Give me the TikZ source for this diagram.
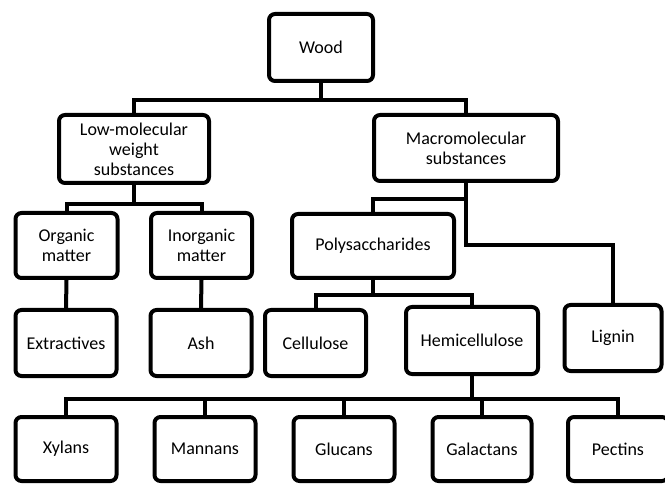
\documentclass[tikz,border=0pt]{standalone}
\usepackage{fontspec}
\setmainfont{Carlito}
\begin{document}
\begin{tikzpicture}[x=1pt,y=-1pt,
  box/.style={draw=black, line width=4pt, rounded corners=6pt, fill=white,
    inner sep=0pt, align=center, font=\fontsize{18}{20}\selectfont},
  conn/.style={draw=black, line width=4pt}]
\useasboundingbox (0,0) rectangle (665,484);
\clip (0,0) rectangle (665,484);
% nodes
\node[box, minimum width=104pt, minimum height=67pt] (wood) at (321,47.5) {Wood};
\node[box, minimum width=150pt, minimum height=68pt] (lowmol) at (134,149) {Low-molecular\\weight\\substances};
\node[box, minimum width=184pt, minimum height=66pt] (macro) at (466,148) {Macromolecular\\substances};
\node[box, minimum width=102pt, minimum height=65pt] (organic) at (66.5,245.5) {Organic\\matter};
\node[box, minimum width=101pt, minimum height=65pt] (inorganic) at (201.5,245.5) {Inorganic\\matter};
\node[box, minimum width=162pt, minimum height=64pt] (poly) at (373,246) {Polysaccharides};
\node[box, minimum width=101pt, minimum height=66pt] (extr) at (66,343) {Extractives};
\node[box, minimum width=101pt, minimum height=66pt] (ash) at (201,343) {Ash};
\node[box, minimum width=101pt, minimum height=66pt] (cell) at (315.5,343) {Cellulose};
\node[box, minimum width=132pt, minimum height=67pt] (hemi) at (472,340.5) {Hemicellulose};
\node[box, minimum width=97pt, minimum height=66pt] (lignin) at (613,338) {Lignin};
\node[box, minimum width=101pt, minimum height=64pt] (xyl) at (66,449) {Xylans};
\node[box, minimum width=101pt, minimum height=64pt] (man) at (205,449) {Mannans};
\node[box, minimum width=101pt, minimum height=64pt] (glu) at (344,449) {Glucans};
\node[box, minimum width=99pt, minimum height=64pt] (gal) at (482,449) {Galactans};
\node[box, minimum width=100pt, minimum height=64pt] (pec) at (618,449) {Pectins};
% connectors
\draw[conn] (wood.south) -- ++(0,17) coordinate (j1);
\draw[conn] (lowmol.north) |- (j1) -| (macro.north);
\draw[conn] (lowmol.south) -- ++(0,19) coordinate (j2);
\draw[conn] (organic.north) |- (j2) -| (inorganic.north);
\draw[conn] (organic.south) -- (extr.north);
\draw[conn] (inorganic.south) -- (ash.north);
\path (macro.south) ++(0,16) coordinate (j3a);
\draw[conn] (macro.south) -- ++(0,62) coordinate (j3) -| (lignin.north);
\draw[conn] (poly.north) |- (j3a);
\draw[conn] (poly.south) -- ++(0,15) coordinate (j4);
\draw[conn] (cell.north) |- (j4) -| (hemi.north);
\draw[conn] (hemi.south) -- ++(0,23) coordinate (j5);
\draw[conn] (xyl.north) |- (j5) -| (pec.north);
\draw[conn] (man.north) -- (man.north |- j5);
\draw[conn] (glu.north) -- (glu.north |- j5);
\draw[conn] (gal.north) -- (gal.north |- j5);
\end{tikzpicture}
\end{document}
